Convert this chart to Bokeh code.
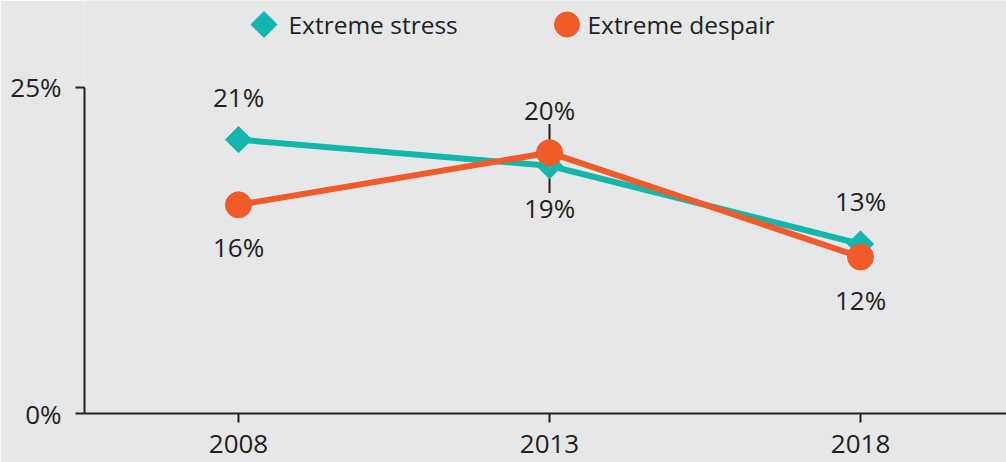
import math
from bokeh.plotting import figure
from bokeh.models import ColumnDataSource, Range1d, FixedTicker
from bokeh.core.properties import value
from bokeh.embed import file_html
from bokeh.resources import INLINE

# Share of respondents reporting extreme stress / extreme despair
years = [2008, 2013, 2018]
year_labels = ["2008", "2013", "2018"]
stress = [21, 19, 13]
despair = [16, 20, 12]
stress_label_side = ["above", "below", "above"]
despair_label_side = ["below", "above", "below"]
y_ticks = [0, 25]
y_tick_labels = ["0%", "25%"]
series_names = ["Extreme stress", "Extreme despair"]

TEAL = "#13b6ad"
ORANGE = "#f15a29"
INK = "#231f20"
BG = "#e6e7e8"
FONT = "Open Sans"
NUM_FS = "26px"
LEG_FS = "24.5px"

FRAME_W, FRAME_H = 922, 413

p = figure(frame_width=FRAME_W, frame_height=FRAME_H,
           x_range=Range1d(2005.524, 2020.347), y_range=Range1d(0, 31.67),
           output_backend="svg", toolbar_location=None,
           min_border_left=84, min_border_right=0, min_border_top=0, min_border_bottom=49,
           background_fill_color=BG, border_fill_color=BG, outline_line_color=None)
p.grid.visible = False
# pixel coordinate system for the key at the top
p.extra_x_ranges = {"px": Range1d(0, FRAME_W)}
p.extra_y_ranges = {"px": Range1d(0, FRAME_H)}

# axes
p.xaxis.ticker = FixedTicker(ticks=years)
p.xaxis.major_label_overrides = {y: s for y, s in zip(years, year_labels)}
p.yaxis.ticker = FixedTicker(ticks=y_ticks)
p.yaxis.major_label_overrides = {t: s for t, s in zip(y_ticks, y_tick_labels)}
p.yaxis.bounds = (0, 25)
for ax in (p.xaxis, p.yaxis):
    ax.axis_line_color = INK
    ax.axis_line_width = 2
    ax.major_tick_line_color = INK
    ax.major_tick_line_width = 2
    ax.major_tick_in = 0
    ax.minor_tick_line_color = None
    ax.major_label_text_font = FONT
    ax.major_label_text_font_size = NUM_FS
    ax.major_label_text_color = INK
p.xaxis.major_tick_out = 9
p.xaxis.major_label_standoff = 12
p.yaxis.major_tick_out = 9
p.yaxis.major_label_standoff = 14

# vertical marker through the 2013 pair of points
mid = years.index(2013)
p.segment(x0=[years[mid]], x1=[years[mid]],
          y0=[despair[mid] + 2.2], y1=[stress[mid] - 2.1],
          line_color=INK, line_width=2)

ABOVE, BELOW = -42.5, 42.5
s_src = ColumnDataSource(dict(x=years, y=stress,
                              lab=[f"{v}%" for v in stress],
                              off=[ABOVE if s == "above" else BELOW for s in stress_label_side]))
d_src = ColumnDataSource(dict(x=years, y=despair,
                              lab=[f"{v}%" for v in despair],
                              off=[ABOVE if s == "above" else BELOW for s in despair_label_side]))

p.line("x", "y", source=s_src, line_color=TEAL, line_width=6)
p.scatter("x", "y", source=s_src, marker="square", angle=math.pi / 4,
          size=18.5, fill_color=TEAL, line_color=TEAL)
p.line("x", "y", source=d_src, line_color=ORANGE, line_width=6)
p.scatter("x", "y", source=d_src, marker="circle", size=26,
          fill_color=ORANGE, line_color=ORANGE)

for src in (s_src, d_src):
    p.text("x", "y", text="lab", source=src, y_offset="off",
           text_align="center", text_baseline="middle",
           text_font=value(FONT), text_font_size=NUM_FS, text_color=INK)

# key: a diamond for stress, a dot for despair, each followed by its name
key_y = FRAME_H - 24
p.scatter(x=[179.5], y=[key_y], marker="square", angle=math.pi / 4, size=18.5,
          fill_color=TEAL, line_color=TEAL, x_range_name="px", y_range_name="px")
p.scatter(x=[482.5], y=[key_y], marker="circle", size=25,
          fill_color=ORANGE, line_color=ORANGE, x_range_name="px", y_range_name="px")
p.text(x=[204, 503], y=[key_y, key_y], text=series_names,
       text_align="left", text_baseline="middle",
       text_font=value(FONT), text_font_size=LEG_FS, text_color=INK,
       x_range_name="px", y_range_name="px")

open("out.html", "w").write(file_html(p, INLINE))
